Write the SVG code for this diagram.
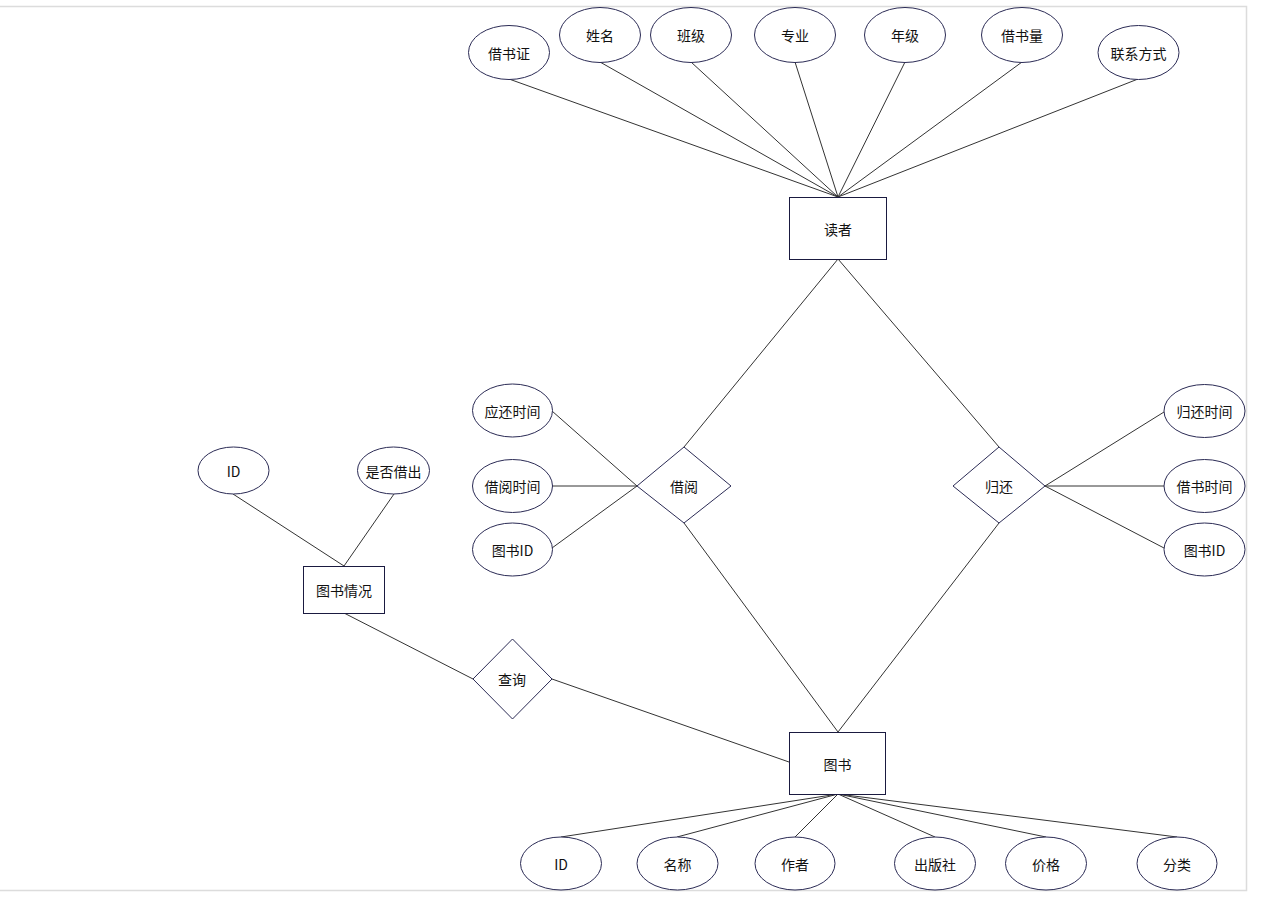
<svg xmlns="http://www.w3.org/2000/svg" width="1268" height="903" viewBox="0 0 1268 903">
<style>
.e{fill:#fff;stroke:#2b2b55;stroke-width:1}
.r{fill:#fff;stroke:#1a1a40;stroke-width:1}
.d{fill:#fff;stroke:#2b2b55;stroke-width:1}
.c line{stroke:#333;stroke-width:1}
text{font-family:"Noto Sans CJK SC","Liberation Sans",sans-serif;font-size:14px;fill:#111;text-anchor:middle;dominant-baseline:central}
.f{stroke:#dcdcdc;stroke-width:1.5;fill:none}
</style>
<rect width="1268" height="903" fill="#fff"/>
<path class="f" d="M0 6.5H1246.5V890.5H0"/>
<g class="c" id="connectors">
<line x1="509" y1="79" x2="838" y2="197"/>
<line x1="600" y1="62" x2="838" y2="197"/>
<line x1="691" y1="62" x2="838" y2="197"/>
<line x1="795" y1="62" x2="838" y2="197"/>
<line x1="905" y1="62" x2="838" y2="197"/>
<line x1="1022" y1="62" x2="838" y2="197"/>
<line x1="1138" y1="79" x2="838" y2="197"/>
<line x1="838" y1="259" x2="684" y2="447"/>
<line x1="838" y1="259" x2="999" y2="447"/>
<line x1="684" y1="523" x2="838" y2="732"/>
<line x1="999" y1="523" x2="838" y2="732"/>
<line x1="552" y1="411" x2="637" y2="486"/>
<line x1="552" y1="486" x2="637" y2="486"/>
<line x1="552" y1="548" x2="637" y2="486"/>
<line x1="1045" y1="486" x2="1164" y2="412"/>
<line x1="1045" y1="486" x2="1164" y2="486"/>
<line x1="1045" y1="486" x2="1164" y2="548"/>
<line x1="233" y1="494" x2="344" y2="566"/>
<line x1="394" y1="494" x2="344" y2="566"/>
<line x1="344" y1="613" x2="473" y2="679"/>
<line x1="552" y1="679" x2="789" y2="762"/>
<line x1="838" y1="794" x2="561" y2="837"/>
<line x1="838" y1="794" x2="677" y2="837"/>
<line x1="838" y1="794" x2="795" y2="837"/>
<line x1="838" y1="794" x2="935" y2="837"/>
<line x1="838" y1="794" x2="1046" y2="837"/>
<line x1="838" y1="794" x2="1177" y2="837"/>
</g>
<g id="reader"><rect class="r" x="789.5" y="197.5" width="97" height="62"/><text x="838" y="229">读者</text></g>
<g id="book"><rect class="r" x="789.5" y="732.5" width="96" height="62"/><text x="837.5" y="764">图书</text></g>
<g id="bookstatus"><rect class="r" x="303.5" y="566.5" width="81" height="47"/><text x="344" y="590">图书情况</text></g>
<g id="borrow"><polygon class="d" points="684,447 731,486 684,523 637,486"/><text x="684" y="486">借阅</text></g>
<g id="return"><polygon class="d" points="999,447 1045,486 999,523 953,486"/><text x="999" y="486">归还</text></g>
<g id="query"><polygon class="d" points="512.5,639 552,679 512.5,719 473,679"/><text x="512" y="679">查询</text></g>
<g id="a-jsz"><ellipse class="e" cx="509" cy="52.5" rx="40.5" ry="27"/><text x="509" y="53">借书证</text></g>
<g id="a-xm"><ellipse class="e" cx="600" cy="35" rx="40.5" ry="27.5"/><text x="600" y="35">姓名</text></g>
<g id="a-bj"><ellipse class="e" cx="691" cy="35" rx="40.5" ry="27.5"/><text x="691" y="35">班级</text></g>
<g id="a-zy"><ellipse class="e" cx="795" cy="35" rx="40.5" ry="27.5"/><text x="795" y="35">专业</text></g>
<g id="a-nj"><ellipse class="e" cx="905" cy="35" rx="40.5" ry="27.5"/><text x="905" y="35">年级</text></g>
<g id="a-jsl"><ellipse class="e" cx="1022" cy="35" rx="40.5" ry="27.5"/><text x="1022" y="35">借书量</text></g>
<g id="a-lxfs"><ellipse class="e" cx="1138.5" cy="52.5" rx="40.5" ry="27"/><text x="1138.5" y="53">联系方式</text></g>
<g id="a-yhsj"><ellipse class="e" cx="512.5" cy="410.5" rx="40" ry="26.5"/><text x="512.5" y="411">应还时间</text></g>
<g id="a-jysj"><ellipse class="e" cx="512.5" cy="486" rx="40" ry="26.5"/><text x="512.5" y="486">借阅时间</text></g>
<g id="a-tsid1"><ellipse class="e" cx="512.5" cy="549.5" rx="40" ry="26.5"/><text x="512.5" y="550">图书ID</text></g>
<g id="a-ghsj"><ellipse class="e" cx="1204.5" cy="411" rx="40.5" ry="26.5"/><text x="1204.5" y="411">归还时间</text></g>
<g id="a-jssj"><ellipse class="e" cx="1204.5" cy="486" rx="40.5" ry="26.5"/><text x="1204.5" y="486">借书时间</text></g>
<g id="a-tsid2"><ellipse class="e" cx="1204.5" cy="549.5" rx="40.5" ry="26.5"/><text x="1204.5" y="550">图书ID</text></g>
<g id="a-id1"><ellipse class="e" cx="233.5" cy="470.5" rx="35.5" ry="23.5"/><text x="233.5" y="471">ID</text></g>
<g id="a-sfjc"><ellipse class="e" cx="393.5" cy="470.5" rx="36" ry="23.5"/><text x="393.5" y="471">是否借出</text></g>
<g id="a-id2"><ellipse class="e" cx="561" cy="863.5" rx="40.5" ry="26.5"/><text x="561" y="864">ID</text></g>
<g id="a-mc"><ellipse class="e" cx="677.5" cy="863.5" rx="40.5" ry="26.5"/><text x="677.5" y="864">名称</text></g>
<g id="a-zz"><ellipse class="e" cx="795" cy="863.5" rx="40" ry="26.5"/><text x="795" y="864">作者</text></g>
<g id="a-cbs"><ellipse class="e" cx="935" cy="863.5" rx="40.5" ry="26.5"/><text x="935" y="864">出版社</text></g>
<g id="a-jg"><ellipse class="e" cx="1046" cy="863.5" rx="40.5" ry="26.5"/><text x="1046" y="864">价格</text></g>
<g id="a-fl"><ellipse class="e" cx="1177" cy="863.5" rx="40" ry="26.5"/><text x="1177" y="864">分类</text></g>
</svg>
